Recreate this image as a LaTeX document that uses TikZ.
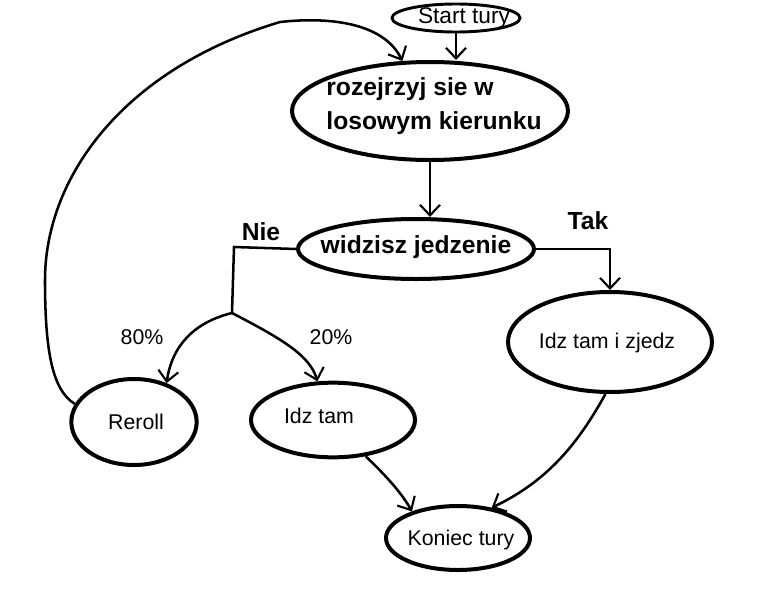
\documentclass[tikz,border=0pt]{standalone}
\usepackage{fontspec}
\setmainfont{Liberation Sans}
\usetikzlibrary{shapes.geometric,arrows.meta}

\tikzset{every picture/.style={line width=0.75pt}}
\tikzset{
  state/.style={ellipse, draw, line width=3pt, inner sep=0pt},
  conn/.style={line width=1.9pt, -{Straight Barb[length=8pt,width=15pt,line width=1.6pt]}},
  plainline/.style={line width=1.9pt},
  tag/.style={inner sep=0.75pt, font=\fontsize{16}{18}\selectfont},
  boldtag/.style={inner sep=0.75pt, font=\bfseries\fontsize{18.5}{25.5}\selectfont}
}

\begin{document}
\begin{tikzpicture}[x=0.75pt,y=0.75pt,yscale=-1,xscale=1]
        \useasboundingbox (0,0) rectangle (760,600);

        %Shape: Ellipse [id:start]
        \node [state, line width=2.2pt, minimum width=96pt, minimum height=21pt] (start) at (456,18) {};
        %Shape: Ellipse [id:look]
        \node [state, minimum width=207pt, minimum height=73.5pt] (look) at (430,111) {};
        %Shape: Ellipse [id:see]
        \node [state, minimum width=177pt, minimum height=45pt] (see) at (416,249) {};
        %Shape: Ellipse [id:eat]
        \node [state, minimum width=153pt, minimum height=75pt] (eat) at (610,342) {};
        %Shape: Ellipse [id:reroll]
        \node [state, minimum width=94pt, minimum height=64.5pt] (reroll) at (134,422) {};
        %Shape: Ellipse [id:go]
        \node [state, minimum width=123pt, minimum height=56pt] (go) at (333,420) {};
        %Shape: Ellipse [id:end]
        \node [state, minimum width=108pt, minimum height=48pt] (end) at (458,538) {};

        \coordinate (split) at (232,313);

        %Straight Lines [id:start-look]
        \draw [conn] (start.south) -- (look.north -| start.south);
        %Curve Lines [id:loop]
        \draw [conn] (reroll.163) .. controls (52,390) and (45,350) .. (45,280) .. controls (45,180) and (120,70) .. (280,22) .. controls (335,16) and (385,25) .. (look.119);
        %Straight Lines [id:look-see]
        \draw [conn] (look.south) -- (look.south |- see.north);
        %Straight Lines [id:nie]
        \draw [plainline] (see.west) -- (234,247) -- (split);
        %Curve Lines [id:p80]
        \draw [conn] (split) .. controls (195,322) and (172,345) .. (reroll.50);
        %Curve Lines [id:p20]
        \draw [conn] (split) .. controls (280,338) and (310,355) .. (go.112);
        %Straight Lines [id:tak]
        \draw [conn] (see.east) -| (eat.north);
        %Curve Lines [id:eat-end]
        \draw [conn] (eat.265) .. controls (580,440) and (550,480) .. (end.42);
        %Curve Lines [id:go-end]
        \draw [conn] (go.312) .. controls (380,470) and (400,490) .. (end.150);

        % Text Node
        \node [tag, font=\fontsize{17}{19}\selectfont] (starttext) at (464,18) {Start tury};
        % Text Node
        \node [boldtag, align=left] (looktext) at (434,106) {rozejrzyj sie w\\losowym kierunku};
        % Text Node
        \node [boldtag] (seetext) at (416,247) {widzisz jedzenie};
        % Text Node
        \node [tag] (eattext) at (607,343) {Idz tam i zjedz};
        % Text Node
        \node [tag] (reroltext) at (136,422) {Reroll};
        % Text Node
        \node [tag] (gotext) at (319,416) {Idz tam};
        % Text Node
        \node [tag] (endtext) at (461,540) {Koniec tury};
        % Text Node
        \node [boldtag] (nie) at (261,232) {Nie};
        % Text Node
        \node [boldtag] (tak) at (588,221) {Tak};
        % Text Node
        \node [tag] (t80) at (142,337) {80\%};
        % Text Node
        \node [tag] (t20) at (331,337) {20\%};

\end{tikzpicture}
\end{document}
